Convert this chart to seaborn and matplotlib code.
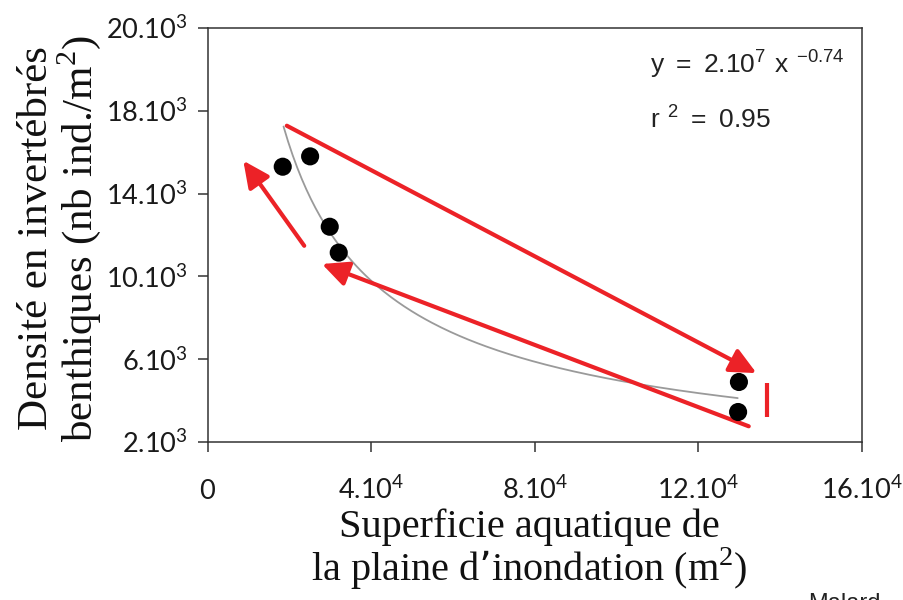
import numpy as np
import pandas as pd
import seaborn as sns
import matplotlib.pyplot as plt

# valeurs (surface en m2, densité en ind./m2)
surface = [18300, 25000, 29800, 32000, 129900, 129700]
densite = [15300, 15800, 12400, 11150, 4900, 3450]

x_ticks = [0, 40000, 80000, 120000, 160000]
x_labels = ['0', '4.10^4', '8.10^4', '12.10^4', '16.10^4']
y_ticks = [2000, 6000, 10000, 14000, 18000, 22000]
y_labels = ['2.10^3', '6.10^3', '10.10^3', '14.10^3', '18.10^3', '20.10^3']

# courbe ajustée y = a x^b (paramètres)
curve_a = 2.36e7
curve_b = -0.735
curve_span = (18500, 129600)

# flèches rouges (départ, arrivée) et trait vertical
arrows = [((19300, 17280), (134200, 5330)),
          ((132300, 2760), (27900, 10600)),
          ((23560, 11480), (8660, 15590))]
bar_x = 136700
bar_y = (3190, 4850)

RED = '#ec2227'

sns.set_style('ticks')
plt.rcParams['font.family'] = ['Lato', 'DejaVu Sans']

fig, ax = plt.subplots(figsize=(9.04, 6), dpi=100)
fig.subplots_adjust(left=0.230, right=0.9535, bottom=0.2633, top=0.9533)

df = pd.DataFrame({'surface': surface, 'densite': densite})

# courbe de tendance
cx = np.linspace(curve_span[0], curve_span[1], 200)
curve = pd.DataFrame({'x': cx, 'y': curve_a * cx ** curve_b})
sns.lineplot(data=curve, x='x', y='y', color='#9a9a9a', linewidth=1.3, ax=ax, zorder=2)

# flèches
for (x0, y0), (x1, y1) in arrows:
    ax.annotate('', xy=(x1, y1), xytext=(x0, y0),
                arrowprops=dict(arrowstyle='-|>,head_length=0.8,head_width=0.38',
                                color=RED, lw=3, mutation_scale=20,
                                shrinkA=0, shrinkB=0), zorder=3)
ax.plot([bar_x, bar_x], bar_y, color=RED, lw=3, solid_capstyle='butt', zorder=3)

sns.scatterplot(data=df, x='surface', y='densite', color='black', s=170,
                edgecolor='none', ax=ax, zorder=4)

ax.set_xlim(0, 160000)
ax.set_ylim(2000, 22000)
ax.set_xticks(x_ticks)
ax.set_xticklabels([r'$\mathregular{%s}$' % t for t in x_labels], fontsize=19.5)
ax.set_yticks(y_ticks)
ax.set_yticklabels([r'$\mathregular{%s}$' % t for t in y_labels], fontsize=19.5)
for lbl in ax.get_xticklabels():
    lbl.set_verticalalignment('baseline')

for sp in ax.spines.values():
    sp.set_visible(True)
    sp.set_color('#333333')
    sp.set_linewidth(1.1)
ax.tick_params(axis='both', direction='out', length=7.5, width=1.1, colors='#333333')
ax.tick_params(axis='x', pad=33.5)
ax.tick_params(axis='y', pad=7)
ax.tick_params(labelcolor='#1a1a1a')

# équation
eq_font = dict(family='Liberation Sans', fontsize=19, color='#222222')
ax.text(0.676, 0.891, r'$\mathregular{y\;=\;2.10^7\ x\ ^{-0.74}}$',
        transform=ax.transAxes, ha='left', va='baseline', **eq_font)
ax.text(0.676, 0.758, r'$\mathregular{r\ ^2\;=\;0.95}$',
        transform=ax.transAxes, ha='left', va='baseline', **eq_font)

serif = dict(family='Liberation Serif', color='#111111')
ax.set_xlabel('Superficie aquatique de\nla plaine d\u2019inondation (m$^\\mathregular{2}$)',
              linespacing=1.0, fontsize=29, **serif)
ax.xaxis.set_label_coords(0.491, -0.16)
ax.xaxis.label.set_verticalalignment('top')
ax.set_ylabel('Densité en invertébrés\nbenthiques (nb ind./m$^\\mathregular{2}$)',
              linespacing=1.0, fontsize=31, **serif)
ax.yaxis.set_label_coords(-0.16, 0.493)

fig.text(0.894, -0.017, 'Malard', family='Liberation Sans', fontsize=17,
         color='#222222', ha='left', va='baseline')

plt.savefig('out.png', dpi=100)
plt.close()
